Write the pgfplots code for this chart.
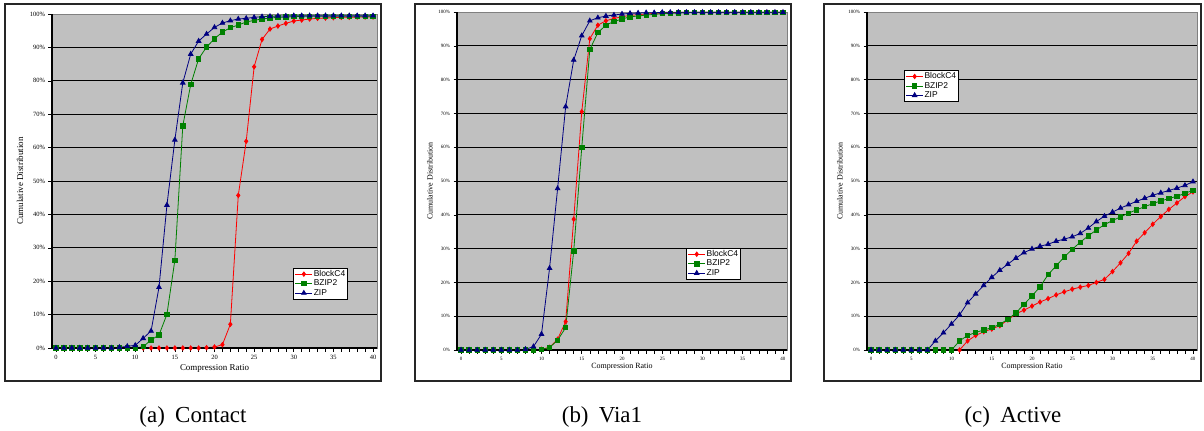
\documentclass[border=0pt]{standalone}
\usepackage{fontspec}
\setmainfont{Liberation Serif}
\newfontfamily\arial{Liberation Sans}
\usepackage{pgfplots}
\usepackage{pgfplotstable}
\pgfplotsset{compat=1.18}

\definecolor{plotgray}{HTML}{C0C0C0}
\definecolor{cred}{HTML}{FF0000}
\definecolor{cgreen}{HTML}{008000}
\definecolor{cblue}{HTML}{000080}

\pgfplotstableread{
x blk bz zip
0 0 0 0
1 0 0 0
2 0 0 0
3 0 0 0
4 0 0 0
5 0 0 0
6 0 0 0
7 0 0 0
8 0 0 0.2
9 0 0 0.5
10 0 0 0.8
11 0 0.4 2.9
12 0 2.4 5.1
13 0 3.9 18.2
14 0 10.1 42.8
15 0 26.3 62.3
16 0 66.5 79.4
17 0 78.9 88.0
18 0 86.6 91.9
19 0.1 90.1 94.0
20 0.3 92.6 96.0
21 1.0 94.6 97.3
22 7.1 95.9 98.0
23 45.7 96.7 98.5
24 61.9 97.6 98.7
25 84.2 98.1 99.0
26 92.4 98.5 99.2
27 95.5 98.8 99.3
28 96.4 99.0 99.4
29 97.2 99.1 99.4
30 97.9 99.2 99.5
31 98.2 99.3 99.5
32 98.5 99.3 99.5
33 98.7 99.3 99.5
34 98.8 99.3 99.5
35 98.9 99.3 99.5
36 99.0 99.3 99.5
37 99.0 99.3 99.5
38 99.1 99.3 99.5
39 99.1 99.3 99.5
40 99.1 99.3 99.5
}\tabcontact

\pgfplotstableread{
x blk bz zip
0 0 0 0
1 0 0 0
2 0 0 0
3 0 0 0
4 0 0 0
5 0 0 0
6 0 0 0
7 0 0 0
8 0 0 0.2
9 0 0 1.0
10 0.2 0.2 4.7
11 0.8 0.7 24.2
12 3.2 2.9 47.8
13 8.4 6.6 72.0
14 38.7 29.3 85.8
15 70.5 59.9 93.0
16 92.1 88.9 97.4
17 96.1 93.9 98.3
18 97.4 96.1 98.8
19 98.1 97.2 99.1
20 98.6 97.9 99.4
21 99.0 98.6 99.6
22 99.2 98.8 99.7
23 99.4 99.1 99.8
24 99.6 99.3 99.8
25 99.7 99.5 99.9
26 99.8 99.6 99.9
27 99.9 99.7 99.9
28 99.9 99.8 99.9
29 99.9 99.9 99.9
30 99.9 99.9 99.9
31 99.9 99.9 99.9
32 99.9 99.9 99.9
33 99.9 99.9 99.9
34 99.9 99.9 99.9
35 99.9 99.9 99.9
36 99.9 99.9 99.9
37 99.9 99.9 99.9
38 99.9 99.9 99.9
39 99.9 99.9 99.9
40 99.9 99.9 99.9
}\tabvia

\pgfplotstableread{
x blk bz zip
0 0 0 0
1 0 0 0
2 0 0 0
3 0 0 0
4 0 0 0
5 0 0 0
6 0 0 0
7 0 0 0
8 0 0 2.7
9 0 0 5.1
10 0 0 7.7
11 0 2.7 10.4
12 2.7 4.3 14.0
13 4.3 5.2 16.6
14 5.4 5.9 19.1
15 6.2 6.6 21.5
16 7.2 7.6 23.6
17 8.9 9.1 25.4
18 10.7 11.0 27.2
19 11.8 13.5 28.8
20 13.0 16.0 29.9
21 14.2 18.7 30.7
22 15.2 22.3 31.3
23 16.3 24.9 32.2
24 17.2 27.5 32.8
25 18.0 29.8 33.5
26 18.6 31.9 34.5
27 19.1 33.8 36.1
28 20.0 35.5 38.0
29 20.9 37.1 39.6
30 23.2 38.3 40.8
31 25.8 39.4 42.0
32 28.6 40.5 43.0
33 32.2 41.5 44.0
34 34.7 42.4 44.9
35 37.2 43.3 45.8
36 39.5 44.1 46.5
37 41.6 44.8 47.2
38 43.5 45.5 47.9
39 45.4 46.3 48.7
40 46.8 47.3 49.8
}\tabactive

\pgfplotsset{
  excel/.style={
    scale only axis, clip=false,
    xmin=-0.5, xmax=40.5, ymin=0, ymax=100,
    axis background/.style={fill=plotgray},
    axis line style={draw=black!50, line width=0.6bp},
    ytick={0,10,20,30,40,50,60,70,80,90,100},
    yticklabels={0\%,10\%,20\%,30\%,40\%,50\%,60\%,70\%,80\%,90\%,100\%},
    xtick={0,5,10,15,20,25,30,35,40},
    xticklabels={0,5,10,15,20,25,30,35,40},
    minor xtick={0,1,...,40},
    ymajorgrids, grid style={black, line width=0.7bp},
    tick align=outside, tick pos=left,
    major tick length=3.5bp, minor tick length=3.5bp,
    every tick/.style={black, line width=0.6bp},
    legend cell align=left,
    legend image code/.code={\draw[mark repeat=2,mark phase=2,##1] plot coordinates {(0bp,0bp) (8.5bp,0bp) (17bp,0bp)};},
    legend style={draw=black, line width=0.6bp, fill=white, font=\arial\fontsize{8.5}{10}\selectfont,
      inner xsep=1.5bp, inner ysep=1.2bp, row sep=0bp, anchor=north west,
      nodes={inner sep=1bp}},
    xlabel={Compression Ratio}, ylabel={Cumulative Distribution},
  },
  sblk/.style={cred, line width=0.8bp, mark=diamond*, mark size=2.2bp, mark options={solid, fill=cred}},
  sbz/.style={cgreen, line width=0.8bp, mark=square*, mark size=2.2bp, mark options={solid, fill=cgreen}},
  szip/.style={cblue, line width=0.8bp, mark=triangle*, mark size=2.6bp, mark options={solid, fill=cblue}},
}

\begin{document}
\begin{tikzpicture}
\useasboundingbox (0bp,0bp) rectangle (1204bp,-431bp);
% outer frames
\draw[line width=1.4bp, black!85] (5bp,-4bp) rectangle (381bp,-381bp);
\draw[line width=1.4bp, black!85] (415bp,-4bp) rectangle (791bp,-381bp);
\draw[line width=1.4bp, black!85] (824bp,-4bp) rectangle (1201bp,-381bp);

% (a)
\begin{axis}[excel,
  at={(52bp,-348bp)}, anchor=south west, width=325bp, height=334bp,
  ticklabel style={font=\fontsize{6.5}{7}\selectfont},
  xlabel style={at={(axis description cs:0.5,-0.06)}, anchor=center, font=\fontsize{9}{10}\selectfont},
  ylabel style={at={(axis description cs:-0.098,0.5)}, anchor=center, font=\fontsize{9}{10}\selectfont},
  legend style={at={(axis description cs:0.742,0.240)}},
]
\addplot[sblk] table[x=x,y=blk] {\tabcontact};
\addplot[sbz] table[x=x,y=bz] {\tabcontact};
\addplot[szip] table[x=x,y=zip] {\tabcontact};
\legend{BlockC4,BZIP2,ZIP}
\draw[black, line width=1.2bp] (rel axis cs:0,0) -- (rel axis cs:0,1);
\draw[black, line width=1.2bp] (rel axis cs:0,0) -- (rel axis cs:1,0);
\end{axis}

% (b)
\begin{axis}[excel,
  at={(457bp,-350bp)}, anchor=south west, width=330bp, height=338bp,
  ticklabel style={font=\fontsize{5}{6}\selectfont},
  xlabel style={at={(axis description cs:0.5,-0.05)}, anchor=center, font=\fontsize{8}{9}\selectfont},
  ylabel style={at={(axis description cs:-0.082,0.5)}, anchor=center, font=\fontsize{8}{9}\selectfont},
  legend style={at={(axis description cs:0.694,0.302)}},
]
\addplot[sblk] table[x=x,y=blk] {\tabvia};
\addplot[sbz] table[x=x,y=bz] {\tabvia};
\addplot[szip] table[x=x,y=zip] {\tabvia};
\legend{BlockC4,BZIP2,ZIP}
\draw[black, line width=1.2bp] (rel axis cs:0,0) -- (rel axis cs:0,1);
\draw[black, line width=1.2bp] (rel axis cs:0,0) -- (rel axis cs:1,0);
\end{axis}

% (c)
\begin{axis}[excel,
  at={(867bp,-350bp)}, anchor=south west, width=330bp, height=338bp,
  ticklabel style={font=\fontsize{5}{6}\selectfont},
  xlabel style={at={(axis description cs:0.5,-0.05)}, anchor=center, font=\fontsize{8}{9}\selectfont},
  ylabel style={at={(axis description cs:-0.082,0.5)}, anchor=center, font=\fontsize{8}{9}\selectfont},
  legend style={at={(axis description cs:0.112,0.828)}},
]
\addplot[sblk] table[x=x,y=blk] {\tabactive};
\addplot[sbz] table[x=x,y=bz] {\tabactive};
\addplot[szip] table[x=x,y=zip] {\tabactive};
\legend{BlockC4,BZIP2,ZIP}
\draw[black, line width=1.2bp] (rel axis cs:0,0) -- (rel axis cs:0,1);
\draw[black, line width=1.2bp] (rel axis cs:0,0) -- (rel axis cs:1,0);
\end{axis}

% captions
\node[font=\fontsize{23}{26}\selectfont] at (193bp,-417bp) {(a)\hspace{0.45em}Contact};
\node[font=\fontsize{23}{26}\selectfont] at (602bp,-417bp) {(b)\hspace{0.45em}Via1};
\node[font=\fontsize{23}{26}\selectfont] at (1013bp,-417bp) {(c)\hspace{0.45em}Active};
\end{tikzpicture}
\end{document}
